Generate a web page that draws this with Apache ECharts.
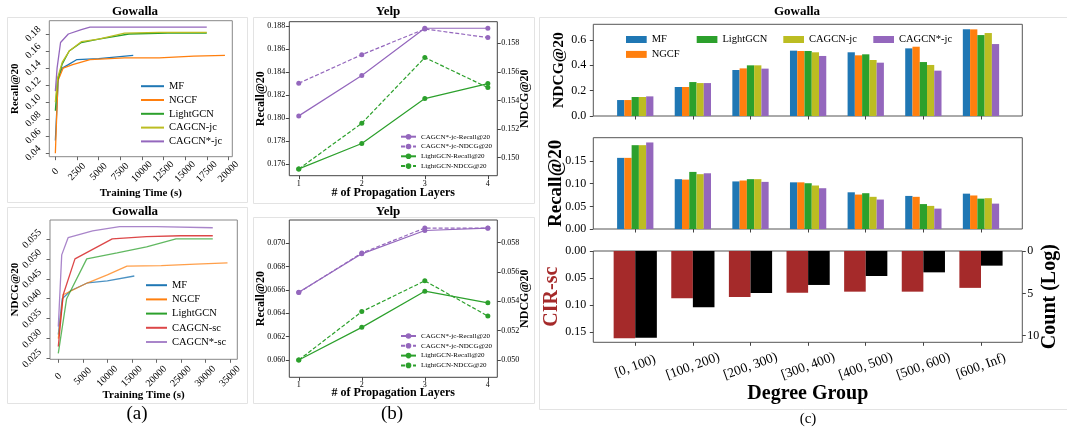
<!DOCTYPE html>
<html><head><meta charset="utf-8">
<script src="https://cdn.jsdelivr.net/npm/echarts@6/dist/echarts.min.js"></script>
<style>html,body{margin:0;padding:0;background:#fff}#c{width:1067px;height:431px}</style>
</head><body><div id="c"></div>
<script>
// ---------------- DATA ----------------
// (a) top: Recall@20 vs training time (Gowalla)
const aTopNames = ['MF','NGCF','LightGCN','CAGCN-jc','CAGCN*-jc'];
const aTopMF_t = [0,350,800,1500,2500,5000,9000];
const aTopMF_v = [0.055,0.130,0.140,0.144,0.150,0.151,0.155];
const aTopNGCF_t = [0,300,900,2000,4000,8000,12000,16000,19600];
const aTopNGCF_v = [0.040,0.125,0.140,0.144,0.150,0.152,0.152,0.154,0.155];
const aTopLGCN_t = [0,250,800,1600,3000,5000,8500,13000,17500];
const aTopLGCN_v = [0.090,0.125,0.145,0.160,0.170,0.174,0.180,0.181,0.181];
const aTopJC_t = [0,250,800,1600,3000,5000,8000,12000,17500];
const aTopJC_v = [0.100,0.128,0.147,0.160,0.171,0.174,0.181,0.182,0.182];
const aTopSJC_t = [0,200,600,1500,3000,4000,10000,17500];
const aTopSJC_v = [0.113,0.140,0.170,0.180,0.185,0.188,0.188,0.188];
const aTimeTicks = [0,2500,5000,7500,10000,12500,15000,17500,20000];
const aRecallTicks = [0.04,0.06,0.08,0.10,0.12,0.14,0.16,0.18];

// (a) bottom: NDCG@20 vs training time (Gowalla)
const aBotNames = ['MF','NGCF','LightGCN','CAGCN-sc','CAGCN*-sc'];
const aBotMF_t = [0,800,2500,6000,10000,15500];
const aBotMF_v = [0.031,0.040,0.042,0.044,0.0445,0.0457];
const aBotNGCF_t = [0,1000,3500,6000,10000,14000,21000,28000,34500];
const aBotNGCF_v = [0.030,0.041,0.0425,0.044,0.046,0.0482,0.0483,0.0487,0.049];
const aBotLGCN_t = [0,1700,5800,12000,18000,24000,31500];
const aBotLGCN_v = [0.0263,0.040,0.050,0.0515,0.053,0.055,0.055];
const aBotSC_t = [0,1000,3400,11000,18000,25000,31500];
const aBotSC_v = [0.028,0.041,0.050,0.055,0.0556,0.0558,0.0558];
const aBotSSC_t = [0,700,2000,7000,12500,20000,31500];
const aBotSSC_v = [0.033,0.051,0.0553,0.057,0.0581,0.0581,0.0578];
const aTimeTicks2 = [0,5000,10000,15000,20000,25000,30000,35000];
const aNdcgTicks = [0.025,0.030,0.035,0.040,0.045,0.050,0.055];

// (b) Yelp vs propagation layers
const layers = [1,2,3,4];
const bNames = ['CAGCN*-jc-Recall@20','CAGCN*-jc-NDCG@20','LightGCN-Recall@20','LightGCN-NDCG@20'];
const bTopCagcnRecall = [0.1802,0.1837,0.1878,0.1878];
const bTopCagcnNdcg = [0.1552,0.1572,0.1590,0.1584];
const bTopLgcnRecall = [0.1756,0.1778,0.1817,0.1830];
const bTopLgcnNdcg = [0.1492,0.1524,0.1570,0.1549];
const bBotCagcnRecall = [0.0658,0.0691,0.0711,0.0713];
const bBotCagcnNdcg = [0.0546,0.0573,0.0590,0.0590];
const bBotLgcnRecall = [0.0600,0.0628,0.0659,0.0649];
const bBotLgcnNdcg = [0.0500,0.0533,0.0554,0.0530];
const bTopRecallTicks = [0.176,0.178,0.180,0.182,0.184,0.186,0.188];
const bTopNdcgTicks = [0.150,0.152,0.154,0.156,0.158];
const bBotRecallTicks = [0.060,0.062,0.064,0.066,0.068,0.070];
const bBotNdcgTicks = [0.050,0.052,0.054,0.056,0.058];

// (c) degree groups
const degreeGroups = ['[0, 100)','[100, 200)','[200, 300)','[300, 400)','[400, 500)','[500, 600)','[600, Inf)'];
const groupTicks = [0,1,2,3,4,5,6];
const cNdcgMF   = [0.126,0.229,0.363,0.516,0.503,0.534,0.684];
const cNdcgNGCF = [0.126,0.229,0.376,0.513,0.479,0.547,0.684];
const cNdcgLGCN = [0.150,0.268,0.400,0.513,0.487,0.426,0.639];
const cNdcgJC   = [0.150,0.260,0.400,0.503,0.442,0.403,0.655];
const cNdcgSJC  = [0.155,0.260,0.374,0.474,0.421,0.358,0.568];
const cRecMF   = [0.157,0.110,0.105,0.103,0.081,0.073,0.078];
const cRecNGCF = [0.157,0.109,0.107,0.103,0.076,0.071,0.074];
const cRecLGCN = [0.185,0.126,0.110,0.101,0.079,0.055,0.067];
const cRecJC   = [0.185,0.121,0.110,0.096,0.071,0.051,0.068];
const cRecSJC  = [0.191,0.123,0.104,0.090,0.065,0.045,0.056];
const cCirSc = [0.161,0.087,0.085,0.077,0.075,0.075,0.068];
const cCountLog = [10.24,6.65,4.96,4.01,2.95,2.52,1.73];
const cNdcgTicks = [0,0.2,0.4,0.6];
const cRecTicks = [0,0.05,0.10,0.15];
const cCirTicks = [0,0.05,0.10,0.15];
const cCountTicks = [0,5,10];

// ---------------- HELPERS ----------------
const FONT = "'Liberation Serif','Times New Roman',serif";
const C = {blue:'#1f77b4',orange:'#ff7f0e',green:'#2ca02c',olive:'#bcbd22',purple:'#9467bd',red:'#d62728',brown:'#a52a2a'};
const zip = (xs, ys) => xs.map((x,i)=>[x, ys[i]]);
const idx = (vals) => vals.map((v,i)=>[i, v]);

function line(name, xs, ys, color, xi, yi, extra) {
  extra = extra || {};
  return {
    type:'line', name, data: zip(xs, ys), xAxisIndex:xi, yAxisIndex:yi,
    symbol:'none', color, itemStyle:{color}, lineStyle:{color, width:1.3, opacity: extra.opacity||1},
    silent:true, z:2
  };
}
function mline(name, ys, color, xi, yi, dashed) {
  return {
    type:'line', name, data: zip(layers, ys), xAxisIndex:xi, yAxisIndex:yi,
    symbol:'circle', symbolSize:5, color, itemStyle:{color},
    lineStyle:{color, width:1.2, type: dashed ? [4,2] : 'solid'}, silent:true
  };
}
function bar(name, vals, color, xi, yi, gap) {
  return {
    type:'bar', name, data: idx(vals), xAxisIndex:xi, yAxisIndex:yi, color,
    itemStyle:{color}, barGap:'0%', barCategoryGap:gap, silent:true
  };
}
function xAx(grid, min, max, ticks, o) {
  o = o || {};
  return {
    gridIndex:grid, type:'value', min, max, splitLine:{show:false}, axisLine:{show:false, onZero:false},
    axisTick:{show:true, customValues:ticks, length:3.5, lineStyle:{color:o.tc||'#444', width:1}},
    axisLabel:Object.assign({show:o.showLabel!==false, customValues:ticks, fontFamily:FONT, fontSize:o.fs||10, color:'#000',
      margin:o.margin||4, formatter:o.fmt||(v=>String(v))}, o.label||{}),
    name:o.name||'', nameLocation:'middle', nameGap:o.gap||20, nameMoveOverlap:false,
    nameTextStyle:{fontFamily:FONT, fontWeight:'bold', fontSize:o.nfs||11, color:'#000'}
  };
}
function yAx(grid, min, max, ticks, o) {
  o = o || {};
  return {
    gridIndex:grid, type:'value', min, max, position:o.pos||'left', inverse:!!o.inverse,
    splitLine:{show:false}, axisLine:{show:false, onZero:false},
    axisTick:{show:true, customValues:ticks, length:3.5, lineStyle:{color:o.tc||'#444', width:1}},
    axisLabel:Object.assign({customValues:ticks, fontFamily:FONT, fontSize:o.fs||10, color:'#000',
      margin:o.margin||4, formatter:o.fmt||(v=>String(v))}, o.label||{}),
    name:o.name||'', nameLocation:'middle', nameGap:o.gap||20, nameRotate:90, nameMoveOverlap:false,
    nameTextStyle:{fontFamily:FONT, fontWeight:'bold', fontSize:o.nfs||11, color:o.ncolor||'#000'}
  };
}
const fx = d => (v => v.toFixed(d));
function title(text, x, y, fs, bold) {
  return {text, left:x, top:y, textAlign:'center', padding:0,
    textStyle:{fontFamily:FONT, fontSize:fs, fontWeight:bold?'bold':'normal', color:'#000'}};
}
function frame(x,y,w,h){
  return {type:'rect', shape:{x,y,width:w,height:h}, style:{fill:null, stroke:'#e3e3e3', lineWidth:1}, silent:true, z:-10};
}
const rot45 = {rotate:45, align:'center', verticalAlign:'middle'};
const legText = (fs) => ({fontFamily:FONT, fontSize:fs, color:'#000'});

// ---------------- OPTION ----------------
const option = {
  animation:false,
  backgroundColor:'#fff',
  textStyle:{fontFamily:FONT},
  graphic:[
    frame(7.5,17.5,240,185), frame(7.5,207.5,240,196),
    frame(253.5,17.5,281,186), frame(253.5,217.5,281,186),
    frame(539.5,17.5,540,392)
  ],
  title:[
    title('Gowalla',135,5,13,true), title('Gowalla',135,205,13,true),
    title('Yelp',388,5,13,true), title('Yelp',388,205,13,true),
    title('Gowalla',797,5,13,true),
    title('(a)',137,405,19,false), title('(b)',392,405,19,false), title('(c)',808,412,15,false)
  ],
  grid:[
    {left:49.3, top:20.7, width:183, height:136, show:true, borderColor:'#888', borderWidth:1, backgroundColor:'transparent', outerBoundsMode:'none'},
    {left:50, top:220, width:187.3, height:139.3, show:true, borderColor:'#888', borderWidth:1, backgroundColor:'transparent', outerBoundsMode:'none'},
    {left:289.3, top:21.7, width:208, height:154, show:true, borderColor:'#444', borderWidth:1, backgroundColor:'transparent', outerBoundsMode:'none'},
    {left:289.3, top:220, width:208, height:157.3, show:true, borderColor:'#444', borderWidth:1, backgroundColor:'transparent', outerBoundsMode:'none'},
    {left:593.3, top:24.3, width:429, height:91.7, show:true, borderColor:'#555', borderWidth:1, backgroundColor:'transparent', outerBoundsMode:'none'},
    {left:593.3, top:137.7, width:429, height:91.3, show:true, borderColor:'#555', borderWidth:1, backgroundColor:'transparent', outerBoundsMode:'none'},
    {left:593.3, top:251, width:429, height:91.3, show:true, borderColor:'#555', borderWidth:1, backgroundColor:'transparent', outerBoundsMode:'none'}
  ],
  xAxis:[
    xAx(0,-700,20450,aTimeTicks,{label:rot45, margin:15, name:'Training Time (s)', gap:31, tc:'#666'}),
    xAx(1,-1690,36500,aTimeTicks2,{label:rot45, margin:17, name:'Training Time (s)', gap:30, tc:'#666'}),
    xAx(2,0.85,4.15,layers,{fs:8, margin:4, name:'# of Propagation Layers', gap:11, nfs:12}),
    xAx(3,0.85,4.15,layers,{fs:8, margin:4, name:'# of Propagation Layers', gap:10, nfs:12}),
    xAx(4,-0.728,6.717,groupTicks,{showLabel:false}),
    xAx(5,-0.728,6.717,groupTicks,{showLabel:false}),
    xAx(6,-0.728,6.717,groupTicks,{fs:13.5, margin:24, fmt:(v=>degreeGroups[Math.round(v)]),
        label:{rotate:20, align:'center', verticalAlign:'middle'}, name:'Degree Group', gap:42, nfs:20})
  ],
  yAxis:[
    yAx(0,0.036,0.1956,aRecallTicks,{fmt:fx(2), label:rot45, margin:16, name:'Recall@20', gap:29, tc:'#666'}),
    yAx(1,0.0248,0.05975,aNdcgTicks,{fmt:fx(3), label:rot45, margin:18, name:'NDCG@20', gap:29, tc:'#666'}),
    yAx(2,0.17501,0.18837,bTopRecallTicks,{fmt:fx(3), fs:8, margin:4, name:'Recall@20', gap:22, nfs:12}),
    yAx(2,0.14873,0.15951,bTopNdcgTicks,{pos:'right', fmt:fx(3), fs:8, margin:4, name:'NDCG@20', gap:22, nfs:12}),
    yAx(3,0.05852,0.0720,bBotRecallTicks,{fmt:fx(3), fs:8, margin:4, name:'Recall@20', gap:22, nfs:12}),
    yAx(3,0.04882,0.05955,bBotNdcgTicks,{pos:'right', fmt:fx(3), fs:8, margin:4, name:'NDCG@20', gap:22, nfs:12}),
    yAx(4,0,0.724,cNdcgTicks,{fmt:fx(1), fs:12, margin:7, name:'NDCG@20', gap:26, nfs:15.5}),
    yAx(5,0,0.2015,cRecTicks,{fmt:fx(2), fs:12, margin:7, name:'Recall@20', gap:28, nfs:19}),
    yAx(6,0,0.1684,cCirTicks,{inverse:true, fmt:fx(2), fs:12, margin:7, name:'CIR-sc', gap:31, nfs:20, ncolor:C.brown}),
    yAx(6,0,10.78,cCountTicks,{pos:'right', inverse:true, fs:12, margin:5, name:'Count (Log)', gap:18, nfs:20})
  ],
  legend:[
    {data:aTopNames, orient:'vertical', left:140, top:80.7, itemWidth:23, itemHeight:10, itemGap:2.8, padding:0,
     itemStyle:{opacity:0}, selectedMode:false, textStyle:legText(10.5)},
    {data:aBotNames, orient:'vertical', left:145, top:279.7, itemWidth:21, itemHeight:10, itemGap:3.2, padding:0,
     itemStyle:{opacity:0}, selectedMode:false, textStyle:legText(10.5)},
    {data:bNames, orient:'vertical', left:400, top:133.2, itemWidth:15, itemHeight:7, itemGap:2.8, padding:0,
     selectedMode:false, textStyle:legText(7)},
    {data:bNames, orient:'vertical', left:400, top:332.5, itemWidth:15, itemHeight:7, itemGap:2.8, padding:0,
     selectedMode:false, textStyle:legText(7)},
    {data:['MF','NGCF'], icon:'rect', orient:'vertical', left:626, top:34, itemWidth:20.7, itemHeight:7, itemGap:3.9, padding:0,
     selectedMode:false, textStyle:legText(10.5)},
    {data:['LightGCN'], icon:'rect', orient:'vertical', left:696.7, top:34, itemWidth:20.7, itemHeight:7, padding:0,
     selectedMode:false, textStyle:legText(10.5)},
    {data:['CAGCN-jc'], icon:'rect', orient:'vertical', left:783.3, top:34, itemWidth:20.7, itemHeight:7, padding:0,
     selectedMode:false, textStyle:legText(10.5)},
    {data:['CAGCN*-jc'], icon:'rect', orient:'vertical', left:873.3, top:34, itemWidth:20.7, itemHeight:7, padding:0,
     selectedMode:false, textStyle:legText(10.5)}
  ],
  series:[
    // (a) top
    line('MF', aTopMF_t, aTopMF_v, C.blue, 0, 0),
    line('NGCF', aTopNGCF_t, aTopNGCF_v, C.orange, 0, 0),
    line('LightGCN', aTopLGCN_t, aTopLGCN_v, C.green, 0, 0),
    line('CAGCN-jc', aTopJC_t, aTopJC_v, C.olive, 0, 0),
    line('CAGCN*-jc', aTopSJC_t, aTopSJC_v, C.purple, 0, 0),
    // (a) bottom
    line('MF', aBotMF_t, aBotMF_v, C.blue, 1, 1, {opacity:0.8}),
    line('NGCF', aBotNGCF_t, aBotNGCF_v, C.orange, 1, 1, {opacity:0.75}),
    line('LightGCN', aBotLGCN_t, aBotLGCN_v, C.green, 1, 1, {opacity:0.75}),
    line('CAGCN-sc', aBotSC_t, aBotSC_v, C.red, 1, 1, {opacity:0.85}),
    line('CAGCN*-sc', aBotSSC_t, aBotSSC_v, C.purple, 1, 1, {opacity:0.8}),
    // (b) top
    mline(bNames[0], bTopCagcnRecall, C.purple, 2, 2, false),
    mline(bNames[1], bTopCagcnNdcg, C.purple, 2, 3, true),
    mline(bNames[2], bTopLgcnRecall, C.green, 2, 2, false),
    mline(bNames[3], bTopLgcnNdcg, C.green, 2, 3, true),
    // (b) bottom
    mline(bNames[0], bBotCagcnRecall, C.purple, 3, 4, false),
    mline(bNames[1], bBotCagcnNdcg, C.purple, 3, 5, true),
    mline(bNames[2], bBotLgcnRecall, C.green, 3, 4, false),
    mline(bNames[3], bBotLgcnNdcg, C.green, 3, 5, true),
    // (c) top NDCG
    bar('MF', cNdcgMF, C.blue, 4, 6, '37%'),
    bar('NGCF', cNdcgNGCF, C.orange, 4, 6, '37%'),
    bar('LightGCN', cNdcgLGCN, C.green, 4, 6, '37%'),
    bar('CAGCN-jc', cNdcgJC, C.olive, 4, 6, '37%'),
    bar('CAGCN*-jc', cNdcgSJC, C.purple, 4, 6, '37%'),
    // (c) middle Recall
    bar('MF', cRecMF, C.blue, 5, 7, '37%'),
    bar('NGCF', cRecNGCF, C.orange, 5, 7, '37%'),
    bar('LightGCN', cRecLGCN, C.green, 5, 7, '37%'),
    bar('CAGCN-jc', cRecJC, C.olive, 5, 7, '37%'),
    bar('CAGCN*-jc', cRecSJC, C.purple, 5, 7, '37%'),
    // (c) bottom
    bar('CIR-sc', cCirSc, C.brown, 6, 8, '25%'),
    bar('Count (Log)', cCountLog, '#000', 6, 9, '25%')
  ]
};
const chart = echarts.init(document.getElementById('c'), null, {renderer:'canvas', width:1067, height:431});
chart.setOption(option);
</script>
</body></html>
